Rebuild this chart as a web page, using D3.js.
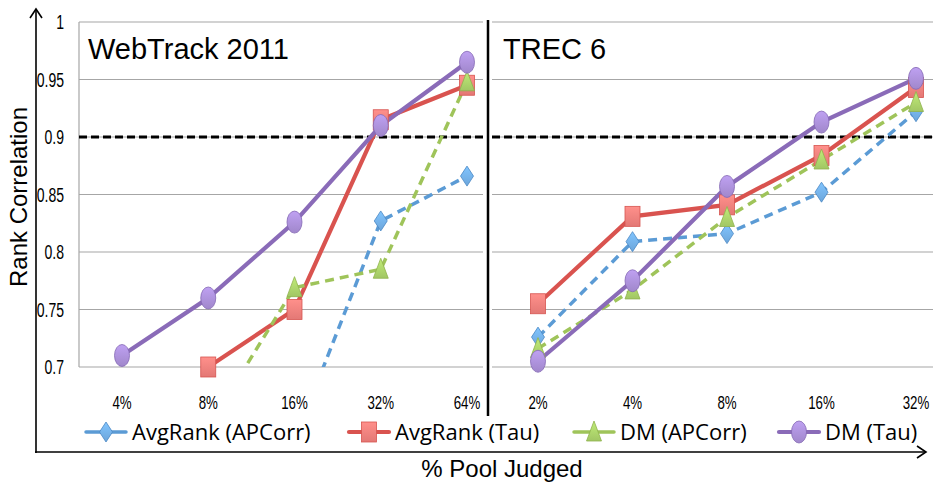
<!DOCTYPE html>
<html>
<head>
<meta charset="utf-8">
<script src="https://cdn.jsdelivr.net/npm/d3@7"></script>
<style>
  html, body { margin: 0; padding: 0; background: #fff; }
  svg { display: block; }
  .narrow { font-family: "Liberation Sans", Arial, sans-serif; }
</style>
</head>
<body>
<svg id="chart" width="933" height="483"></svg>
<script>
// Pool sizes judged, per collection
const webTrackCategories = ["4%", "8%", "16%", "32%", "64%"];
const trec6Categories = ["2%", "4%", "8%", "16%", "32%"];

// Rank correlation per method, WebTrack 2011
const webAvgRankAPCorr = [null, null, 0.636, 0.827, 0.866];
const webAvgRankTau = [null, 0.700, 0.750, 0.915, 0.945];
const webDMAPCorr = [null, 0.648, 0.769, 0.785, 0.948];
const webDMTau = [0.710, 0.760, 0.826, 0.910, 0.965];

// Rank correlation per method, TREC 6
const trecAvgRankAPCorr = [0.726, 0.809, 0.816, 0.852, 0.922];
const trecAvgRankTau = [0.755, 0.831, 0.841, 0.884, 0.943];
const trecDMAPCorr = [0.716, 0.767, 0.830, 0.880, 0.930];
const trecDMTau = [0.705, 0.775, 0.857, 0.913, 0.951];

const seriesNames = ["AvgRank (APCorr)", "AvgRank (Tau)", "DM (APCorr)", "DM (Tau)"];
const yTicks = [0.7, 0.75, 0.8, 0.85, 0.9, 0.95, 1];
const threshold = 0.9;

const svg = d3.select("#chart");

// visual style of each method
const styles = [
  { line: "#5b9bd5", fill: "#72aee6", edge: "#4a88c4", dash: "9,6", width: 3.5, marker: "diamond" },
  { line: "#d9534f", fill: "#f07f7b", edge: "#d65550", dash: null, width: 4.2, marker: "square" },
  { line: "#9fc45a", fill: "#aad16a", edge: "#8fb24d", dash: "9,6", width: 3.5, marker: "triangle" },
  { line: "#8a6bb8", fill: "#a98ed6", edge: "#8468b4", dash: null, width: 4.2, marker: "circle" }
];

// gradients for the marker fills
const defs = svg.append("defs");
styles.forEach((s, i) => {
  const g = defs.append("linearGradient").attr("id", "grad" + i)
    .attr("x1", 0).attr("y1", 0).attr("x2", 0).attr("y2", 1);
  g.append("stop").attr("offset", "0%").attr("stop-color", d3.color(s.fill).brighter(0.35));
  g.append("stop").attr("offset", "100%").attr("stop-color", d3.color(s.fill).darker(0.15));
});

const y = d3.scaleLinear().domain([0.7, 1]).range([367, 22]);

// condensed label: horizontally squeezed text
function narrowText(sel, x, yPos, anchor, size, squeeze, str) {
  sel.append("text")
    .attr("class", "narrow")
    .attr("transform", `translate(${x},${yPos}) scale(${squeeze},1)`)
    .attr("text-anchor", anchor).attr("font-size", size).attr("fill", "#000")
    .text(str);
}

function drawMarker(g, type, cx, cy, i) {
  const s = styles[i];
  const fill = "url(#grad" + i + ")";
  if (type === "circle") {
    g.append("ellipse").attr("cx", cx).attr("cy", cy).attr("rx", 7.5).attr("ry", 11)
      .attr("fill", fill).attr("stroke", s.edge).attr("stroke-width", 0.8);
  } else if (type === "square") {
    g.append("rect").attr("x", cx - 7.5).attr("y", cy - 10).attr("width", 15).attr("height", 20)
      .attr("fill", fill).attr("stroke", s.edge).attr("stroke-width", 0.8);
  } else if (type === "diamond") {
    g.append("path").attr("d", `M${cx},${cy - 10}L${cx + 6.5},${cy}L${cx},${cy + 10}L${cx - 6.5},${cy}Z`)
      .attr("fill", fill).attr("stroke", s.edge).attr("stroke-width", 0.8);
  } else if (type === "triangle") {
    g.append("path").attr("d", `M${cx},${cy - 11}L${cx + 7.5},${cy + 9}L${cx - 7.5},${cy + 9}Z`)
      .attr("fill", fill).attr("stroke", s.edge).attr("stroke-width", 0.8);
  }
}

function drawPanel(opts) {
  const { id, left, right, firstX, lastX, categories, series, title, titleX, leftBorder } = opts;
  const x = d3.scalePoint().domain(categories).range([firstX, lastX]);
  const g = svg.append("g");

  // horizontal gridlines
  g.selectAll("line.grid").data(yTicks).join("line")
    .attr("x1", left).attr("x2", right)
    .attr("y1", d => y(d)).attr("y2", d => y(d))
    .attr("stroke", "#a6a6a6").attr("stroke-width", 1.2);
  if (leftBorder) {
    g.append("line").attr("x1", left).attr("x2", left).attr("y1", y(1)).attr("y2", y(0.7))
      .attr("stroke", "#a6a6a6").attr("stroke-width", 1.2);
  }

  // x tick labels
  categories.forEach(c => narrowText(g, x(c), 409, "middle", 18, 0.74, c));

  // panel title
  g.append("text").attr("x", titleX).attr("y", 59)
    .attr("font-family", "Liberation Sans, Arial, sans-serif").attr("font-size", 29).attr("fill", "#000")
    .text(title);

  // 0.9 reference line
  g.append("line").attr("x1", left).attr("x2", right)
    .attr("y1", y(threshold)).attr("y2", y(threshold))
    .attr("stroke", "#000").attr("stroke-width", 3).attr("stroke-dasharray", "8,4");

  // plotted series, clipped to the value range
  defs.append("clipPath").attr("id", "clip-" + id).append("rect")
    .attr("x", left).attr("y", y(1) - 14).attr("width", right - left).attr("height", y(0.7) - y(1) + 14);
  const plot = g.append("g").attr("clip-path", `url(#clip-${id})`);
  const lineGen = d3.line().defined(d => d.v != null).x(d => x(d.c)).y(d => y(d.v));

  series.forEach((vals, i) => {
    const s = styles[i];
    const pts = categories.map((c, k) => ({ c, v: vals[k] }));
    plot.append("path").datum(pts)
      .attr("d", lineGen).attr("fill", "none")
      .attr("stroke", s.line).attr("stroke-width", s.width)
      .attr("stroke-dasharray", s.dash);
  });
  const markers = g.append("g");
  series.forEach((vals, i) => {
    categories.forEach((c, k) => {
      const v = vals[k];
      if (v != null && v >= 0.7) drawMarker(markers, styles[i].marker, x(c), y(v), i);
    });
  });
}

// WebTrack 2011 panel
drawPanel({
  id: "web", left: 79, right: 483, firstX: 122, lastX: 467,
  categories: webTrackCategories,
  series: [webAvgRankAPCorr, webAvgRankTau, webDMAPCorr, webDMTau],
  title: "WebTrack 2011", titleX: 88, leftBorder: true
});

// TREC 6 panel
drawPanel({
  id: "trec", left: 492, right: 933, firstX: 538, lastX: 916,
  categories: trec6Categories,
  series: [trecAvgRankAPCorr, trecAvgRankTau, trecDMAPCorr, trecDMTau],
  title: "TREC 6", titleX: 503, leftBorder: false
});

// panel divider
svg.append("line").attr("x1", 488).attr("x2", 488).attr("y1", 20).attr("y2", 416)
  .attr("stroke", "#000").attr("stroke-width", 2.5);

// y tick labels
yTicks.forEach(d => narrowText(svg, 64, y(d) + 7, "end", 19.5, 0.72,
  d === 1 ? "1" : d3.format(".2~f")(d)));

// axis arrows
svg.append("line").attr("x1", 36).attr("x2", 36).attr("y1", 453).attr("y2", 9)
  .attr("stroke", "#000").attr("stroke-width", 1.6);
svg.append("path").attr("d", "M30,18L36,9L42,18").attr("fill", "none").attr("stroke", "#000").attr("stroke-width", 1.6);
svg.append("line").attr("x1", 35).attr("x2", 926).attr("y1", 452).attr("y2", 452)
  .attr("stroke", "#000").attr("stroke-width", 1.6);
svg.append("path").attr("d", "M917,446L926,452L917,458").attr("fill", "none").attr("stroke", "#000").attr("stroke-width", 1.6);

// axis titles
svg.append("text").attr("transform", "translate(27,197) rotate(-90)")
  .attr("text-anchor", "middle").attr("font-family", "Liberation Sans, Arial, sans-serif")
  .attr("font-size", 24).attr("fill", "#000").text("Rank Correlation");
svg.append("text").attr("x", 502).attr("y", 477)
  .attr("text-anchor", "middle").attr("font-family", "Liberation Sans, Arial, sans-serif")
  .attr("font-size", 24).attr("fill", "#000").text("% Pool Judged");

// legend
const legendX = [86, 349, 574, 779];
const legend = svg.append("g");
seriesNames.forEach((name, i) => {
  const s = styles[i];
  const lx = legendX[i];
  legend.append("line").attr("x1", lx).attr("x2", lx + 40).attr("y1", 432).attr("y2", 432)
    .attr("stroke", s.line).attr("stroke-width", s.width).attr("stroke-linecap", "round");
  drawMarker(legend, s.marker, lx + 20, 432, i);
  legend.append("text").attr("x", lx + 46).attr("y", 440)
    .attr("font-family", "Open Sans, sans-serif").attr("font-size", 22).attr("fill", "#000")
    .text(name);
});
</script>
</body>
</html>
